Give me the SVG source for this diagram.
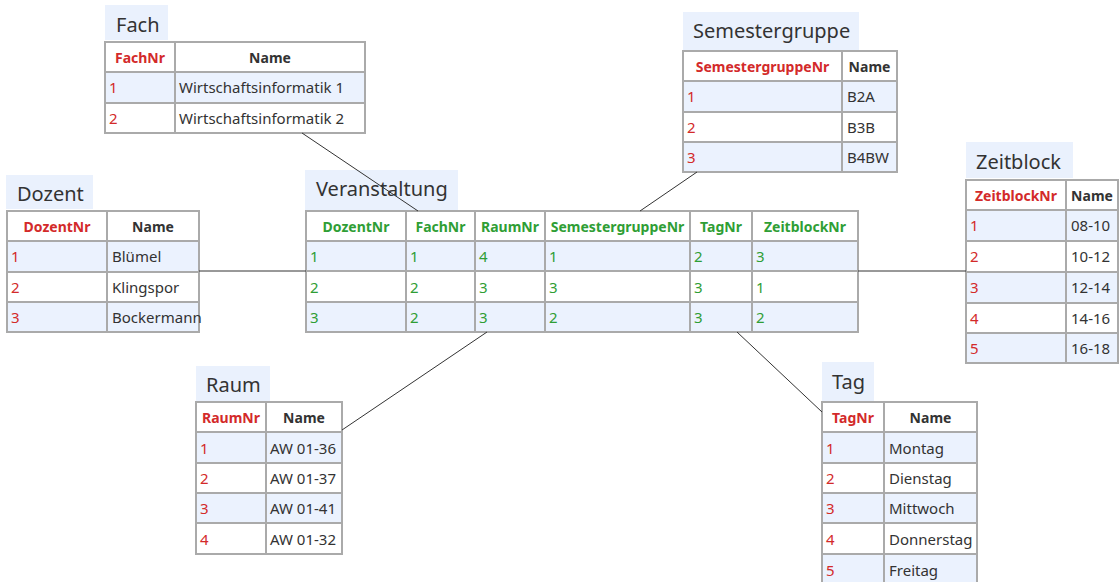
<svg xmlns="http://www.w3.org/2000/svg" width="1119" height="582" viewBox="0 0 1119 582">
<style>
  text { font-family: "Noto Sans", "Open Sans", sans-serif; }
  .ttl-bg { fill: #eaf1fd; }
  .ttl { font-size: 20px; fill: #333; }
  .c { stroke: #aaaaaa; stroke-width: 2; fill: #ffffff; }
  .b { stroke: #aaaaaa; stroke-width: 2; fill: #ebf2fe; }
  .hk { font-size: 14px; font-weight: bold; fill: #d32a2a; text-anchor: middle; }
  .hf { font-size: 14px; font-weight: bold; fill: #2f9e35; text-anchor: middle; }
  .hn { font-size: 14px; font-weight: bold; fill: #333; text-anchor: middle; }
  .dk { font-size: 15px; fill: #d32a2a; }
  .df { font-size: 15px; fill: #2f9e35; }
  .dn { font-size: 15px; fill: #333; }
  .link { stroke: #333; stroke-width: 1; fill: none; }
</style>

<!-- Fach -->
<g id="fach">
  <rect class="ttl-bg" x="105" y="5" width="63" height="35"/>
  <text class="ttl" x="116" y="32">Fach</text>
  <rect class="c" x="105" y="42" width="70" height="30"/>
  <rect class="c" x="175" y="42" width="190" height="30"/>
  <rect class="b" x="105" y="72" width="70" height="31"/>
  <rect class="b" x="175" y="72" width="190" height="31"/>
  <rect class="c" x="105" y="103" width="70" height="30"/>
  <rect class="c" x="175" y="103" width="190" height="30"/>
  <text class="hk" x="140" y="63">FachNr</text>
  <text class="hn" x="270" y="63">Name</text>
  <text class="dk" x="109" y="93">1</text>
  <text class="dn" x="179" y="93">Wirtschaftsinformatik 1</text>
  <text class="dk" x="109" y="124">2</text>
  <text class="dn" x="179" y="124">Wirtschaftsinformatik 2</text>
</g>

<!-- Dozent -->
<g id="dozent">
  <rect class="ttl-bg" x="6" y="175" width="87" height="34"/>
  <text class="ttl" x="17" y="201">Dozent</text>
  <rect class="c" x="7" y="211" width="100" height="30"/>
  <rect class="c" x="107" y="211" width="92" height="30"/>
  <rect class="b" x="7" y="241" width="100" height="31"/>
  <rect class="b" x="107" y="241" width="92" height="31"/>
  <rect class="c" x="7" y="272" width="100" height="30"/>
  <rect class="c" x="107" y="272" width="92" height="30"/>
  <rect class="b" x="7" y="302" width="100" height="30"/>
  <rect class="b" x="107" y="302" width="92" height="30"/>
  <text class="hk" x="57" y="232">DozentNr</text>
  <text class="hn" x="153" y="232">Name</text>
  <text class="dk" x="11" y="262">1</text>
  <text class="dn" x="112" y="262">Blümel</text>
  <text class="dk" x="11" y="293">2</text>
  <text class="dn" x="112" y="293">Klingspor</text>
  <text class="dk" x="11" y="323">3</text>
  <text class="dn" x="112" y="323">Bockermann</text>
</g>

<!-- Veranstaltung -->
<g id="veranstaltung">
  <rect class="ttl-bg" x="305" y="170" width="153" height="40"/>
  <text class="ttl" x="316" y="196">Veranstaltung</text>
  <!-- header -->
  <rect class="c" x="306" y="211" width="100" height="30"/>
  <rect class="c" x="406" y="211" width="69" height="30"/>
  <rect class="c" x="475" y="211" width="70" height="30"/>
  <rect class="c" x="545" y="211" width="145" height="30"/>
  <rect class="c" x="690" y="211" width="62" height="30"/>
  <rect class="c" x="752" y="211" width="106" height="30"/>
  <!-- row 1 -->
  <rect class="b" x="306" y="241" width="100" height="30"/>
  <rect class="b" x="406" y="241" width="69" height="30"/>
  <rect class="b" x="475" y="241" width="70" height="30"/>
  <rect class="b" x="545" y="241" width="145" height="30"/>
  <rect class="b" x="690" y="241" width="62" height="30"/>
  <rect class="b" x="752" y="241" width="106" height="30"/>
  <!-- row 2 -->
  <rect class="c" x="306" y="271" width="100" height="31"/>
  <rect class="c" x="406" y="271" width="69" height="31"/>
  <rect class="c" x="475" y="271" width="70" height="31"/>
  <rect class="c" x="545" y="271" width="145" height="31"/>
  <rect class="c" x="690" y="271" width="62" height="31"/>
  <rect class="c" x="752" y="271" width="106" height="31"/>
  <!-- row 3 -->
  <rect class="b" x="306" y="302" width="100" height="30"/>
  <rect class="b" x="406" y="302" width="69" height="30"/>
  <rect class="b" x="475" y="302" width="70" height="30"/>
  <rect class="b" x="545" y="302" width="145" height="30"/>
  <rect class="b" x="690" y="302" width="62" height="30"/>
  <rect class="b" x="752" y="302" width="106" height="30"/>
  <text class="hf" x="356" y="232">DozentNr</text>
  <text class="hf" x="440.5" y="232">FachNr</text>
  <text class="hf" x="510" y="232">RaumNr</text>
  <text class="hf" x="617.5" y="232">SemestergruppeNr</text>
  <text class="hf" x="721" y="232">TagNr</text>
  <text class="hf" x="805" y="232">ZeitblockNr</text>
  <text class="df" x="310" y="262">1</text><text class="df" x="410" y="262">1</text><text class="df" x="479" y="262">4</text><text class="df" x="549" y="262">1</text><text class="df" x="694" y="262">2</text><text class="df" x="756" y="262">3</text>
  <text class="df" x="310" y="293">2</text><text class="df" x="410" y="293">2</text><text class="df" x="479" y="293">3</text><text class="df" x="549" y="293">3</text><text class="df" x="694" y="293">3</text><text class="df" x="756" y="293">1</text>
  <text class="df" x="310" y="323">3</text><text class="df" x="410" y="323">2</text><text class="df" x="479" y="323">3</text><text class="df" x="549" y="323">2</text><text class="df" x="694" y="323">3</text><text class="df" x="756" y="323">2</text>
</g>

<!-- Semestergruppe -->
<g id="semestergruppe">
  <rect class="ttl-bg" x="683" y="12" width="176" height="38"/>
  <text class="ttl" x="693" y="38">Semestergruppe</text>
  <rect class="c" x="683" y="51" width="159" height="30"/>
  <rect class="c" x="842" y="51" width="55" height="30"/>
  <rect class="b" x="683" y="81" width="159" height="31"/>
  <rect class="b" x="842" y="81" width="55" height="31"/>
  <rect class="c" x="683" y="112" width="159" height="30"/>
  <rect class="c" x="842" y="112" width="55" height="30"/>
  <rect class="b" x="683" y="142" width="159" height="30"/>
  <rect class="b" x="842" y="142" width="55" height="30"/>
  <text class="hk" x="762.5" y="72">SemestergruppeNr</text>
  <text class="hn" x="869.5" y="72">Name</text>
  <text class="dk" x="687" y="102">1</text>
  <text class="dn" x="847" y="102">B2A</text>
  <text class="dk" x="687" y="133">2</text>
  <text class="dn" x="847" y="133">B3B</text>
  <text class="dk" x="687" y="163">3</text>
  <text class="dn" x="847" y="163">B4BW</text>
</g>

<!-- Zeitblock -->
<g id="zeitblock">
  <rect class="ttl-bg" x="966" y="142" width="107" height="36"/>
  <text class="ttl" x="976" y="169">Zeitblock</text>
  <rect class="c" x="966" y="180" width="100" height="30"/>
  <rect class="c" x="1066" y="180" width="52" height="30"/>
  <rect class="b" x="966" y="210" width="100" height="31"/>
  <rect class="b" x="1066" y="210" width="52" height="31"/>
  <rect class="c" x="966" y="241" width="100" height="31"/>
  <rect class="c" x="1066" y="241" width="52" height="31"/>
  <rect class="b" x="966" y="272" width="100" height="31"/>
  <rect class="b" x="1066" y="272" width="52" height="31"/>
  <rect class="c" x="966" y="303" width="100" height="30"/>
  <rect class="c" x="1066" y="303" width="52" height="30"/>
  <rect class="b" x="966" y="333" width="100" height="30"/>
  <rect class="b" x="1066" y="333" width="52" height="30"/>
  <text class="hk" x="1016" y="201">ZeitblockNr</text>
  <text class="hn" x="1092" y="201">Name</text>
  <text class="dk" x="970" y="231">1</text>
  <text class="dn" x="1071" y="231">08-10</text>
  <text class="dk" x="970" y="262">2</text>
  <text class="dn" x="1071" y="262">10-12</text>
  <text class="dk" x="970" y="293">3</text>
  <text class="dn" x="1071" y="293">12-14</text>
  <text class="dk" x="970" y="324">4</text>
  <text class="dn" x="1071" y="324">14-16</text>
  <text class="dk" x="970" y="354">5</text>
  <text class="dn" x="1071" y="354">16-18</text>
</g>

<!-- Raum -->
<g id="raum">
  <rect class="ttl-bg" x="196" y="366" width="74" height="35"/>
  <text class="ttl" x="206" y="392">Raum</text>
  <rect class="c" x="196" y="402" width="70" height="30"/>
  <rect class="c" x="266" y="402" width="76" height="30"/>
  <rect class="b" x="196" y="432" width="70" height="31"/>
  <rect class="b" x="266" y="432" width="76" height="31"/>
  <rect class="c" x="196" y="463" width="70" height="30"/>
  <rect class="c" x="266" y="463" width="76" height="30"/>
  <rect class="b" x="196" y="493" width="70" height="30"/>
  <rect class="b" x="266" y="493" width="76" height="30"/>
  <rect class="c" x="196" y="523" width="70" height="31"/>
  <rect class="c" x="266" y="523" width="76" height="31"/>
  <text class="hk" x="231" y="423">RaumNr</text>
  <text class="hn" x="304" y="423">Name</text>
  <text class="dk" x="200" y="454">1</text>
  <text class="dn" x="270" y="454">AW 01-36</text>
  <text class="dk" x="200" y="484">2</text>
  <text class="dn" x="270" y="484">AW 01-37</text>
  <text class="dk" x="200" y="514">3</text>
  <text class="dn" x="270" y="514">AW 01-41</text>
  <text class="dk" x="200" y="545">4</text>
  <text class="dn" x="270" y="545">AW 01-32</text>
</g>

<!-- Tag -->
<g id="tag">
  <rect class="ttl-bg" x="822" y="362" width="52" height="39"/>
  <text class="ttl" x="832" y="389">Tag</text>
  <rect class="c" x="822" y="402" width="62" height="30"/>
  <rect class="c" x="884" y="402" width="93" height="30"/>
  <rect class="b" x="822" y="432" width="62" height="31"/>
  <rect class="b" x="884" y="432" width="93" height="31"/>
  <rect class="c" x="822" y="463" width="62" height="30"/>
  <rect class="c" x="884" y="463" width="93" height="30"/>
  <rect class="b" x="822" y="493" width="62" height="30"/>
  <rect class="b" x="884" y="493" width="93" height="30"/>
  <rect class="c" x="822" y="523" width="62" height="31"/>
  <rect class="c" x="884" y="523" width="93" height="31"/>
  <rect class="b" x="822" y="554" width="62" height="31"/>
  <rect class="b" x="884" y="554" width="93" height="31"/>
  <text class="hk" x="853" y="423">TagNr</text>
  <text class="hn" x="930.5" y="423">Name</text>
  <text class="dk" x="826" y="454">1</text>
  <text class="dn" x="889" y="454">Montag</text>
  <text class="dk" x="826" y="484">2</text>
  <text class="dn" x="889" y="484">Dienstag</text>
  <text class="dk" x="826" y="514">3</text>
  <text class="dn" x="889" y="514">Mittwoch</text>
  <text class="dk" x="826" y="545">4</text>
  <text class="dn" x="889" y="545">Donnerstag</text>
  <text class="dk" x="826" y="576">5</text>
  <text class="dn" x="889" y="576">Freitag</text>
</g>

<!-- relationship lines, drawn over the title labels -->
<g id="connectors">
  <line class="link" x1="302" y1="133" x2="418" y2="211"/>
  <line class="link" x1="697" y1="172" x2="640" y2="211"/>
  <line class="link" x1="199" y1="271" x2="306" y2="271"/>
  <line class="link" x1="858" y1="271" x2="966" y2="271"/>
  <line class="link" x1="487" y1="332" x2="342" y2="430"/>
  <line class="link" x1="737" y1="332" x2="822" y2="412"/>
</g>
</svg>
